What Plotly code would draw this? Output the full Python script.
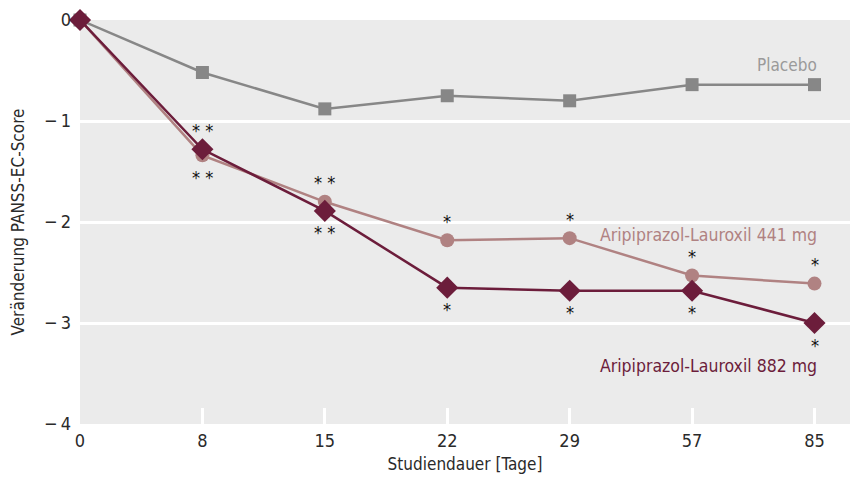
import plotly.graph_objects as go

# Study days (categorical, equally spaced) and mean change in PANSS-EC score
days = ["0", "8", "15", "22", "29", "57", "85"]
placebo = [0, -0.52, -0.88, -0.75, -0.80, -0.64, -0.64]
dose_441 = [0, -1.34, -1.80, -2.18, -2.16, -2.53, -2.61]
dose_882 = [0, -1.28, -1.89, -2.65, -2.68, -2.68, -3.00]

# Significance marks per day: 441 mg drawn above, 882 mg drawn below
sig_441 = ["", "* *", "* *", "*", "*", "*", "*"]
sig_882 = ["", "* *", "* *", "*", "*", "*", "*"]

y_ticks = [0, -1, -2, -3, -4]
y_tick_text = ["0", "\u2212\u20091", "\u2212\u20092", "\u2212\u20093", "\u2212\u20094"]

c_placebo = "#878787"
c_441 = "#b08282"
c_882 = "#6c1d3b"
font_family = "DejaVu Sans Condensed, Liberation Sans Narrow, sans-serif"
text_color = "#2a2a2a"

xi = list(range(len(days)))

fig = go.Figure()
fig.add_trace(go.Scatter(
    x=xi, y=placebo, mode="lines+markers", cliponaxis=False,
    line=dict(color=c_placebo, width=2.5),
    marker=dict(symbol="square", size=13, color=c_placebo),
    showlegend=False))
fig.add_trace(go.Scatter(
    x=xi, y=dose_441, mode="lines+markers", cliponaxis=False,
    line=dict(color=c_441, width=2.5),
    marker=dict(symbol="circle", size=14, color=c_441),
    showlegend=False))
fig.add_trace(go.Scatter(
    x=xi, y=dose_882, mode="lines+markers", cliponaxis=False,
    line=dict(color=c_882, width=2.5),
    marker=dict(symbol="diamond", size=17, color=c_882),
    showlegend=False))

annotations = []
for i in xi:
    if sig_441[i]:
        top = max(dose_441[i], dose_882[i])
        annotations.append(dict(x=i, y=top, xref="x", yref="y", text=sig_441[i],
                                showarrow=False, yshift=19,
                                font=dict(size=18, color="#111111", family=font_family)))
    if sig_882[i]:
        bot = min(dose_441[i], dose_882[i])
        annotations.append(dict(x=i, y=bot, xref="x", yref="y", text=sig_882[i],
                                showarrow=False, yshift=-22,
                                font=dict(size=18, color="#111111", family=font_family)))

# Series labels
annotations += [
    dict(x=6, y=placebo[-1], xref="x", yref="y", text="Placebo", showarrow=False,
         xanchor="right", xshift=4, yshift=20,
         font=dict(size=17, color="#9a9a9a", family=font_family)),
    dict(x=6, y=-2.13, xref="x", yref="y", text="Aripiprazol-Lauroxil 441 mg",
         showarrow=False, xanchor="right", xshift=4,
         font=dict(size=17.5, color=c_441, family=font_family)),
    dict(x=6, y=-3.43, xref="x", yref="y", text="Aripiprazol-Lauroxil 882 mg",
         showarrow=False, xanchor="right", xshift=4,
         font=dict(size=17.5, color=c_882, family=font_family)),
]

fig.update_layout(
    width=850, height=479,
    margin=dict(l=80, r=0, t=20, b=55),
    paper_bgcolor="white",
    plot_bgcolor="#ebebeb",
    font=dict(family=font_family, size=16, color=text_color),
    annotations=annotations,
    xaxis=dict(
        range=[0, 6.29], tickmode="array", tickvals=xi, ticktext=days,
        showgrid=False, zeroline=False, showline=False,
        ticks="inside", ticklen=16, tickwidth=3, tickcolor="white",
        ticklabelstandoff=4,
        tickfont=dict(size=18, family=font_family, color=text_color),
        title=dict(text="Studiendauer [Tage]", standoff=8,
                   font=dict(size=17, family=font_family, color=text_color)),
    ),
    yaxis=dict(
        range=[-4, 0], tickmode="array", tickvals=y_ticks, ticktext=y_tick_text,
        showgrid=True, gridcolor="white", gridwidth=3,
        zeroline=False, showline=False, ticks="",
        ticklabelstandoff=8,
        tickfont=dict(size=18, family=font_family, color=text_color),
        title=dict(text="Veränderung PANSS-EC-Score", standoff=14,
                   font=dict(size=17, family=font_family, color=text_color)),
    ),
)

fig.write_html("out.html")
